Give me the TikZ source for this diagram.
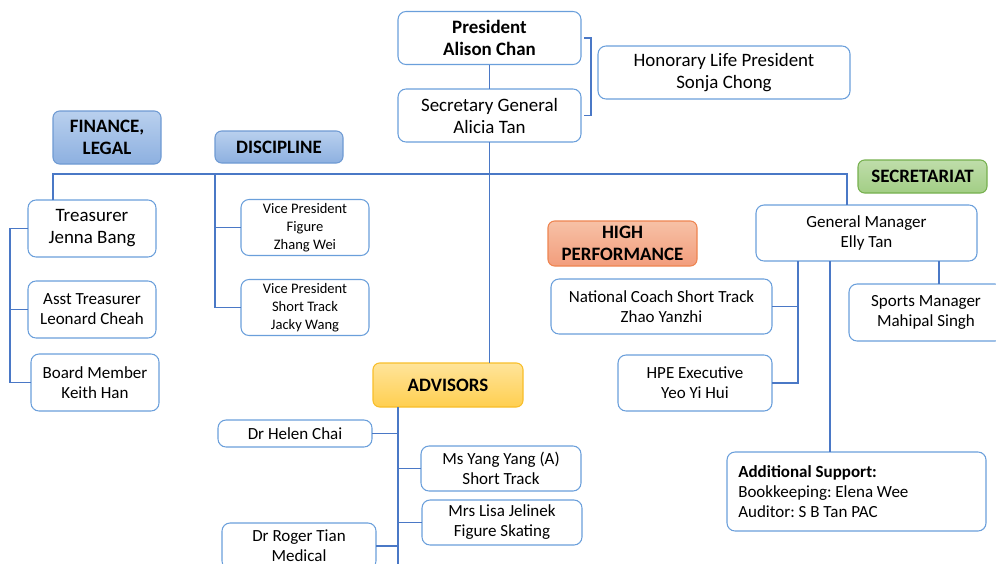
\documentclass[tikz,border=0pt]{standalone}
\usepackage{fontspec}
\setmainfont{Carlito}
\frenchspacing
\usetikzlibrary{calc}
\definecolor{bordc}{HTML}{6A9FDB}
\definecolor{linec}{HTML}{4A78C6}
\definecolor{finT}{HTML}{B9D0EE}
\definecolor{finB}{HTML}{8DB0E0}
\definecolor{finD}{HTML}{6E9AD3}
\definecolor{hpT}{HTML}{F7C1A6}
\definecolor{hpB}{HTML}{F29D7C}
\definecolor{hpD}{HTML}{EE8450}
\definecolor{secT}{HTML}{BFDDAA}
\definecolor{secB}{HTML}{A2CE85}
\definecolor{secD}{HTML}{76B04E}
\definecolor{advT}{HTML}{FFE49A}
\definecolor{advB}{HTML}{FFCF50}
\definecolor{advD}{HTML}{F8BE2A}
\newcommand{\fA}{\fontsize{14.2}{16.5}\selectfont}
\newcommand{\fB}{\fontsize{12.75}{15}\selectfont}
\newcommand{\fC}{\fontsize{10.9}{13.5}\selectfont}
\newcommand{\fH}{\fontsize{14.2}{16.5}\selectfont\bfseries}
\tikzset{
  box/.style={draw=bordc, line width=0.8pt, fill=white, rounded corners=6pt,
    inner sep=0pt, outer sep=0pt, align=center, text=black},
  hdr/.style={box, rounded corners=5pt, font=\fH},
  finhdr/.style={hdr, draw=finD, top color=finT, bottom color=finB},
  hphdr/.style={hdr, draw=hpD, top color=hpT, bottom color=hpB},
  sechdr/.style={hdr, draw=secD, top color=secT, bottom color=secB},
  advhdr/.style={hdr, draw=advD, top color=advT, bottom color=advB},
  conn/.style={draw=linec, line width=1pt},
  wh/.style 2 args={minimum width=#1*0.75pt, minimum height=#2*0.75pt}
}
\begin{document}
\begin{tikzpicture}[x=0.75pt,y=-0.75pt]
\useasboundingbox (0,0) rectangle (996,564);

% top
\node[box, wh={183}{53}, font=\fA\bfseries] (pres) at (489.5,38) {President\\Alison Chan};
\node[box, wh={183}{53}, font=\fA] (sg) at (489.5,115.5) {Secretary General\\Alicia Tan};
\node[box, wh={252}{53}, font=\fA] (hon) at (724,72.5) {Honorary Life President\\Sonja Chong};

% headers
\node[finhdr, wh={108}{53}] (fin) at (107,137.5) {FINANCE,\\LEGAL};
\node[finhdr, wh={128}{32}] (disc) at (279,147) {DISCIPLINE};
\node[hphdr, wh={149}{45}] (hp) at (622.5,243.5) {HIGH\\PERFORMANCE};
\node[sechdr, wh={129}{33}] (sec) at (922.5,176.5) {SECRETARIAT};
\node[advhdr, wh={150}{44}] (adv) at (448,385) {ADVISORS};

% finance
\node[box, wh={128}{57}, font=\fA] (treas) at (92,228.5) {Treasurer\\Jenna Bang};
\node[box, wh={128}{57}, font=\fB] (asst) at (92,309.5) {Asst Treasurer\\Leonard Cheah};
\node[box, wh={128}{57}, font=\fB] (board) at (95,382.5) {Board Member\\Keith Han};

% discipline
\node[box, wh={128}{56}, font=\fC] (vp1) at (305,227.5) {Vice President\\Figure\\Zhang Wei};
\node[box, wh={128}{56}, font=\fC] (vp2) at (305,307.5) {Vice President\\Short Track\\Jacky Wang};

% high performance
\node[box, wh={221}{55}, font=\fB] (nc) at (661.5,306.5) {National Coach Short Track\\Zhao Yanzhi};
\node[box, wh={154}{56}, font=\fB] (hpe) at (695,383) {HPE Executive\\Yeo Yi Hui};

% secretariat
\node[box, wh={221}{56}, font=\fB] (gm) at (866.5,233) {General Manager\\Elly Tan};
\node[box, wh={154}{57}, font=\fB] (sm) at (926,312.5) {Sports Manager\\Mahipal Singh};
\node[box, wh={259}{79}] (add) at (856.5,491.5) {};
\node[anchor=west, align=left, font=\fB, inner sep=0pt] (addt) at (738,491.5)
  {\textbf{Additional Support:}\\Bookkeeping: Elena Wee\\Auditor: S B Tan PAC};

% advisors
\node[box, wh={154}{27}, font=\fB] (helen) at (295,433.5) {Dr Helen Chai};
\node[box, wh={160}{45}, font=\fB] (yang) at (501,468.5) {Ms Yang Yang (A)\\Short Track};
\node[box, wh={160}{45}, font=\fB] (lisa) at (502,522.5) {Mrs Lisa Jelinek\\Figure Skating};
\node[box, wh={154}{46}, font=\fB] (roger) at (299,546) {Dr Roger Tian\\Medical};

% coordinates
\coordinate (br) at (591,0);
\coordinate (busL) at (53,174);
\coordinate (busR) at (847,174);
\coordinate (dx) at (215,174);
\coordinate (lb) at (10,0);
\coordinate (hx) at (798,0);
\coordinate (sx) at (939,0);
\coordinate (ax) at (830,0);
\coordinate (vx) at (398,0);
\coordinate (vbot) at (398,564);

% connectors
\draw[conn] (pres.south) -- (sg.north);
\draw[conn] ([xshift=2.25pt]pres.east) -- (pres.east -| br) -- (sg.east -| br) -- ([xshift=2.25pt]sg.east);
\draw[conn] ($(pres.east -| br)!0.5!(sg.east -| br)$) -- ($(pres.east -| br)!0.5!(sg.east -| br)$ -| hon.west);
\draw[conn] (sg.south) -- (sg.south |- adv.north);
\draw[conn] (busL |- treas.north) -- (busL) -- (busR) -- (busR |- gm.north);
\draw[conn] (dx) -- (dx |- vp2.west) -- (vp2.west);
\draw[conn] (dx |- vp1.west) -- (vp1.west);
\draw[conn] (treas.west) -- (treas.west -| lb) -- (board.west -| lb) -- (board.west);
\draw[conn] (asst.west -| lb) -- (asst.west);
\draw[conn] (gm.south -| hx) -- (hx |- hpe.east) -- (hpe.east);
\draw[conn] (nc.east) -- (nc.east -| hx);
\draw[conn] (gm.south -| sx) -- (sx |- sm.north);
\draw[conn] (gm.south -| ax) -- (ax |- add.north);
\draw[conn] (adv.south -| vx) -- (vbot);
\draw[conn] (helen.east) -- (helen.east -| vx);
\draw[conn] (roger.east) -- (roger.east -| vx);
\draw[conn] (yang.west -| vx) -- (yang.west);
\draw[conn] (lisa.west -| vx) -- (lisa.west);
\end{tikzpicture}
\end{document}
